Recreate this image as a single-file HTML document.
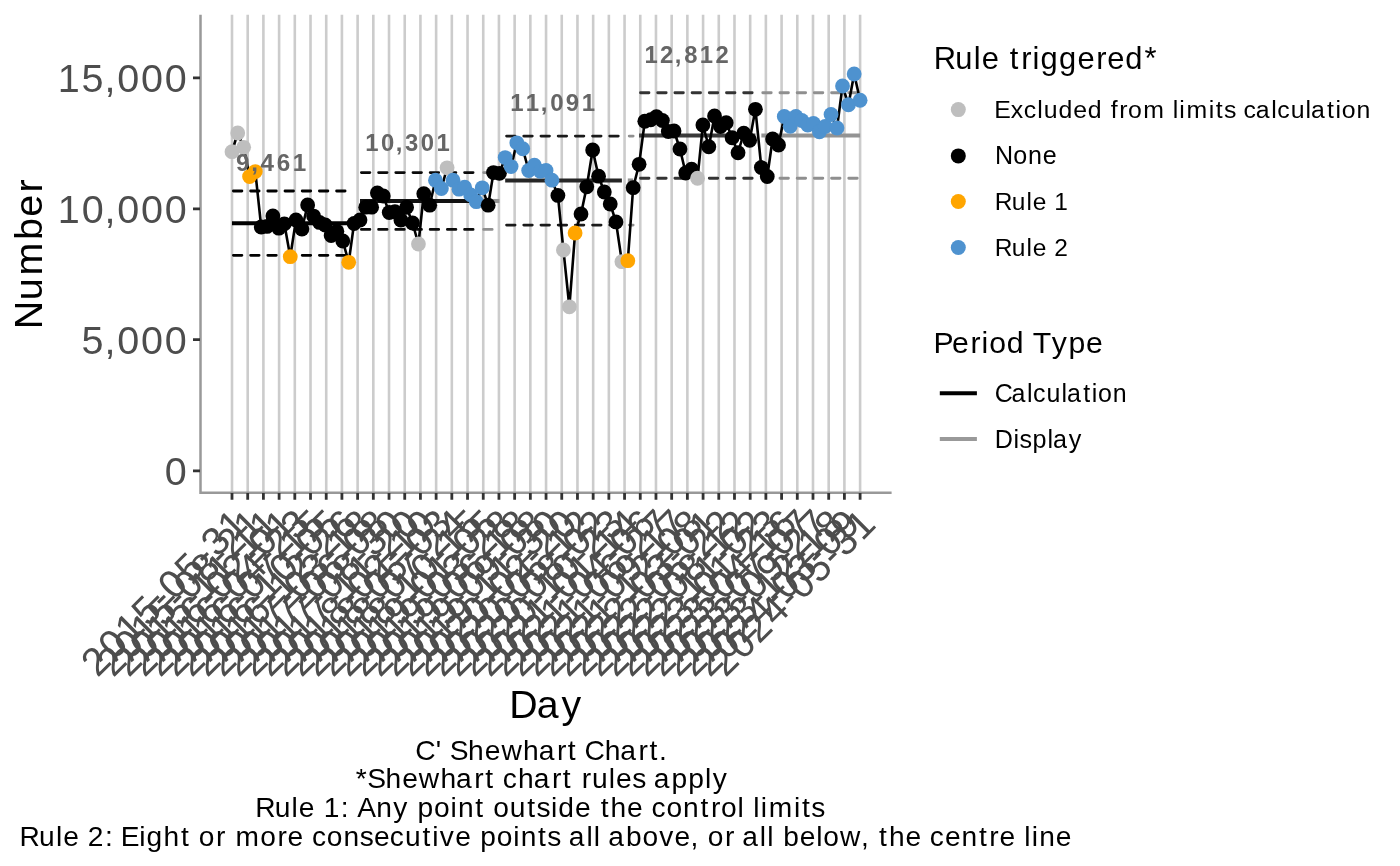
<!DOCTYPE html>
<html><head><meta charset="utf-8"><style>html,body{margin:0;padding:0;background:#fff;overflow:hidden}svg{display:block;will-change:transform}</style></head><body><svg width="1400" height="866" viewBox="0 0 1400 866" font-family="Liberation Sans, sans-serif" style="font-kerning:none"><rect width="1400" height="866" fill="#fff"/>
<path d="M232.00 14.7V492.5M247.70 14.7V492.5M263.40 14.7V492.5M279.11 14.7V492.5M294.81 14.7V492.5M310.51 14.7V492.5M326.22 14.7V492.5M341.92 14.7V492.5M357.62 14.7V492.5M373.32 14.7V492.5M389.02 14.7V492.5M404.73 14.7V492.5M420.43 14.7V492.5M436.13 14.7V492.5M451.83 14.7V492.5M467.54 14.7V492.5M483.24 14.7V492.5M498.94 14.7V492.5M514.64 14.7V492.5M530.35 14.7V492.5M546.05 14.7V492.5M561.75 14.7V492.5M577.46 14.7V492.5M593.16 14.7V492.5M608.86 14.7V492.5M624.56 14.7V492.5M640.26 14.7V492.5M655.97 14.7V492.5M671.67 14.7V492.5M687.37 14.7V492.5M703.08 14.7V492.5M718.78 14.7V492.5M734.48 14.7V492.5M750.18 14.7V492.5M765.88 14.7V492.5M781.59 14.7V492.5M797.29 14.7V492.5M812.99 14.7V492.5M828.69 14.7V492.5M844.40 14.7V492.5M860.10 14.7V492.5" stroke="#cccccc" stroke-width="2.6" fill="none"/>
<path d="M200.5 14.7V492.8H891.6" stroke="#999999" stroke-width="2.5" fill="none"/>
<path d="M193 77.90H200M193 208.85H200M193 339.60H200M193 470.80H200" stroke="#333333" stroke-width="2.8" fill="none"/>
<path d="M232.00 493V499.8M247.70 493V499.8M263.40 493V499.8M279.11 493V499.8M294.81 493V499.8M310.51 493V499.8M326.22 493V499.8M341.92 493V499.8M357.62 493V499.8M373.32 493V499.8M389.02 493V499.8M404.73 493V499.8M420.43 493V499.8M436.13 493V499.8M451.83 493V499.8M467.54 493V499.8M483.24 493V499.8M498.94 493V499.8M514.64 493V499.8M530.35 493V499.8M546.05 493V499.8M561.75 493V499.8M577.46 493V499.8M593.16 493V499.8M608.86 493V499.8M624.56 493V499.8M640.26 493V499.8M655.97 493V499.8M671.67 493V499.8M687.37 493V499.8M703.08 493V499.8M718.78 493V499.8M734.48 493V499.8M750.18 493V499.8M765.88 493V499.8M781.59 493V499.8M797.29 493V499.8M812.99 493V499.8M828.69 493V499.8M844.40 493V499.8M860.10 493V499.8" stroke="#333333" stroke-width="2.8" fill="none"/>
<path d="M232.00 223.2H348.72" stroke="#000000" stroke-width="4.1" fill="none"/>
<path d="M233.40 191.0H348.72M233.40 255.3H348.72" stroke="#000000" stroke-width="2.8" stroke-linecap="round" stroke-dasharray="8.5 8.7" fill="none"/>
<path d="M359.99 201.0H476.32" stroke="#111111" stroke-width="4.1" fill="none"/>
<path d="M361.39 172.6H476.32M361.39 229.4H476.32" stroke="#0a0a0a" stroke-width="2.8" stroke-linecap="round" stroke-dasharray="8.5 8.7" fill="none"/>
<path d="M482.25 201.0H499.44" stroke="#939393" stroke-width="4.1" fill="none"/>
<path d="M483.65 172.6H499.44M483.65 229.4H499.44" stroke="#8f8f8f" stroke-width="2.8" stroke-linecap="round" stroke-dasharray="8.5 8.7" fill="none"/>
<path d="M505.17 180.5H621.89" stroke="#262626" stroke-width="4.1" fill="none"/>
<path d="M506.57 136.1H621.89M506.57 225.1H621.89" stroke="#1a1a1a" stroke-width="2.8" stroke-linecap="round" stroke-dasharray="8.5 8.7" fill="none"/>
<path d="M627.81 180.5H633.16" stroke="#939393" stroke-width="4.1" fill="none"/>
<path d="M629.21 136.1H633.16M629.21 225.1H633.16" stroke="#8f8f8f" stroke-width="2.8" stroke-linecap="round" stroke-dasharray="8.5 8.7" fill="none"/>
<path d="M639.08 135.5H755.42" stroke="#3a3a3a" stroke-width="4.1" fill="none"/>
<path d="M640.48 92.75H755.42M640.48 178.25H755.42" stroke="#333333" stroke-width="2.8" stroke-linecap="round" stroke-dasharray="8.5 8.7" fill="none"/>
<path d="M761.34 135.5H860.10" stroke="#939393" stroke-width="4.1" fill="none"/>
<path d="M762.74 92.75H860.10M762.74 178.25H860.10" stroke="#8f8f8f" stroke-width="2.8" stroke-linecap="round" stroke-dasharray="8.5 8.7" fill="none"/>
<path d="M232.00 151.7 L237.73 133 L243.65 147.3 L249.57 176.6 L255.31 171.6 L261.23 227 L266.96 226.4 L272.88 216 L278.80 228.2 L284.34 223.8 L290.26 256.7 L295.99 219.9 L301.92 229 L307.65 205 L313.57 216.1 L319.49 222.4 L325.22 225.0 L331.14 235.5 L336.87 231.3 L342.80 241 L348.72 262.3 L354.07 223.5 L359.99 220 L365.72 207.2 L371.64 207.2 L377.37 193 L383.29 196 L389.22 212.5 L394.95 211.75 L400.87 220 L406.60 207.25 L412.52 223 L418.44 244 L423.79 193.75 L429.71 205.2 L435.44 180.2 L441.37 188.5 L447.10 167.8 L453.02 180.2 L458.94 189.2 L464.67 187.2 L470.59 194.8 L476.32 201.7 L482.25 187.8 L488.17 205.2 L493.52 172.6 L499.44 173.3 L505.17 157.6 L511.09 166.6 L516.82 142.8 L522.74 148.75 L528.67 170.5 L534.40 165.25 L540.32 171.25 L546.05 170.5 L551.97 180.2 L557.89 195.4 L563.43 250 L569.36 306.8 L575.09 233 L581.01 214 L586.74 186.8 L592.66 150 L598.58 176.2 L604.31 192 L610.24 204 L615.97 221.9 L621.89 261.7 L627.81 260.7 L633.16 187.7 L639.08 164.3 L644.81 121.25 L650.73 119.75 L656.46 116.75 L662.39 120.5 L668.31 131.5 L674.04 131 L679.96 149 L685.69 173 L691.61 169.25 L697.54 178.25 L702.88 125 L708.81 146.75 L714.54 116 L720.46 126.5 L726.19 122.75 L732.11 137.75 L738.03 152.75 L743.76 133.25 L749.69 140.25 L755.42 109.3 L761.34 167.5 L767.26 176.5 L772.61 139 L778.53 145 L784.26 116.5 L790.18 126.25 L795.91 116.5 L801.84 120.5 L807.76 125 L813.49 123.5 L819.41 131.75 L825.14 126.5 L831.06 114.5 L836.99 128 L842.53 86 L848.45 104.75 L854.18 74 L860.10 100.25" stroke="#000" stroke-width="2.6" fill="none" stroke-linejoin="round"/>
<circle cx="232.00" cy="151.7" r="7.4" fill="#bebebe"/>
<circle cx="237.73" cy="133" r="7.4" fill="#bebebe"/>
<circle cx="243.65" cy="147.3" r="7.4" fill="#bebebe"/>
<circle cx="249.57" cy="176.6" r="7.4" fill="#ffa500"/>
<circle cx="255.31" cy="171.6" r="7.4" fill="#ffa500"/>
<circle cx="261.23" cy="227" r="7.4" fill="#000000"/>
<circle cx="266.96" cy="226.4" r="7.4" fill="#000000"/>
<circle cx="272.88" cy="216" r="7.4" fill="#000000"/>
<circle cx="278.80" cy="228.2" r="7.4" fill="#000000"/>
<circle cx="284.34" cy="223.8" r="7.4" fill="#000000"/>
<circle cx="290.26" cy="256.7" r="7.4" fill="#ffa500"/>
<circle cx="295.99" cy="219.9" r="7.4" fill="#000000"/>
<circle cx="301.92" cy="229" r="7.4" fill="#000000"/>
<circle cx="307.65" cy="205" r="7.4" fill="#000000"/>
<circle cx="313.57" cy="216.1" r="7.4" fill="#000000"/>
<circle cx="319.49" cy="222.4" r="7.4" fill="#000000"/>
<circle cx="325.22" cy="225.0" r="7.4" fill="#000000"/>
<circle cx="331.14" cy="235.5" r="7.4" fill="#000000"/>
<circle cx="336.87" cy="231.3" r="7.4" fill="#000000"/>
<circle cx="342.80" cy="241" r="7.4" fill="#000000"/>
<circle cx="348.72" cy="262.3" r="7.4" fill="#ffa500"/>
<circle cx="354.07" cy="223.5" r="7.4" fill="#000000"/>
<circle cx="359.99" cy="220" r="7.4" fill="#000000"/>
<circle cx="365.72" cy="207.2" r="7.4" fill="#000000"/>
<circle cx="371.64" cy="207.2" r="7.4" fill="#000000"/>
<circle cx="377.37" cy="193" r="7.4" fill="#000000"/>
<circle cx="383.29" cy="196" r="7.4" fill="#000000"/>
<circle cx="389.22" cy="212.5" r="7.4" fill="#000000"/>
<circle cx="394.95" cy="211.75" r="7.4" fill="#000000"/>
<circle cx="400.87" cy="220" r="7.4" fill="#000000"/>
<circle cx="406.60" cy="207.25" r="7.4" fill="#000000"/>
<circle cx="412.52" cy="223" r="7.4" fill="#000000"/>
<circle cx="418.44" cy="244" r="7.4" fill="#bebebe"/>
<circle cx="423.79" cy="193.75" r="7.4" fill="#000000"/>
<circle cx="429.71" cy="205.2" r="7.4" fill="#000000"/>
<circle cx="435.44" cy="180.2" r="7.4" fill="#4e92cf"/>
<circle cx="441.37" cy="188.5" r="7.4" fill="#4e92cf"/>
<circle cx="447.10" cy="167.8" r="7.4" fill="#bebebe"/>
<circle cx="453.02" cy="180.2" r="7.4" fill="#4e92cf"/>
<circle cx="458.94" cy="189.2" r="7.4" fill="#4e92cf"/>
<circle cx="464.67" cy="187.2" r="7.4" fill="#4e92cf"/>
<circle cx="470.59" cy="194.8" r="7.4" fill="#4e92cf"/>
<circle cx="476.32" cy="201.7" r="7.4" fill="#4e92cf"/>
<circle cx="482.25" cy="187.8" r="7.4" fill="#4e92cf"/>
<circle cx="488.17" cy="205.2" r="7.4" fill="#000000"/>
<circle cx="493.52" cy="172.6" r="7.4" fill="#000000"/>
<circle cx="499.44" cy="173.3" r="7.4" fill="#000000"/>
<circle cx="505.17" cy="157.6" r="7.4" fill="#4e92cf"/>
<circle cx="511.09" cy="166.6" r="7.4" fill="#4e92cf"/>
<circle cx="516.82" cy="142.8" r="7.4" fill="#4e92cf"/>
<circle cx="522.74" cy="148.75" r="7.4" fill="#4e92cf"/>
<circle cx="528.67" cy="170.5" r="7.4" fill="#4e92cf"/>
<circle cx="534.40" cy="165.25" r="7.4" fill="#4e92cf"/>
<circle cx="540.32" cy="171.25" r="7.4" fill="#4e92cf"/>
<circle cx="546.05" cy="170.5" r="7.4" fill="#4e92cf"/>
<circle cx="551.97" cy="180.2" r="7.4" fill="#4e92cf"/>
<circle cx="557.89" cy="195.4" r="7.4" fill="#000000"/>
<circle cx="563.43" cy="250" r="7.4" fill="#bebebe"/>
<circle cx="569.36" cy="306.8" r="7.4" fill="#bebebe"/>
<circle cx="575.09" cy="233" r="7.4" fill="#ffa500"/>
<circle cx="581.01" cy="214" r="7.4" fill="#000000"/>
<circle cx="586.74" cy="186.8" r="7.4" fill="#000000"/>
<circle cx="592.66" cy="150" r="7.4" fill="#000000"/>
<circle cx="598.58" cy="176.2" r="7.4" fill="#000000"/>
<circle cx="604.31" cy="192" r="7.4" fill="#000000"/>
<circle cx="610.24" cy="204" r="7.4" fill="#000000"/>
<circle cx="615.97" cy="221.9" r="7.4" fill="#000000"/>
<circle cx="621.89" cy="261.7" r="7.4" fill="#bebebe"/>
<circle cx="627.81" cy="260.7" r="7.4" fill="#ffa500"/>
<circle cx="633.16" cy="187.7" r="7.4" fill="#000000"/>
<circle cx="639.08" cy="164.3" r="7.4" fill="#000000"/>
<circle cx="644.81" cy="121.25" r="7.4" fill="#000000"/>
<circle cx="650.73" cy="119.75" r="7.4" fill="#000000"/>
<circle cx="656.46" cy="116.75" r="7.4" fill="#000000"/>
<circle cx="662.39" cy="120.5" r="7.4" fill="#000000"/>
<circle cx="668.31" cy="131.5" r="7.4" fill="#000000"/>
<circle cx="674.04" cy="131" r="7.4" fill="#000000"/>
<circle cx="679.96" cy="149" r="7.4" fill="#000000"/>
<circle cx="685.69" cy="173" r="7.4" fill="#000000"/>
<circle cx="691.61" cy="169.25" r="7.4" fill="#000000"/>
<circle cx="697.54" cy="178.25" r="7.4" fill="#bebebe"/>
<circle cx="702.88" cy="125" r="7.4" fill="#000000"/>
<circle cx="708.81" cy="146.75" r="7.4" fill="#000000"/>
<circle cx="714.54" cy="116" r="7.4" fill="#000000"/>
<circle cx="720.46" cy="126.5" r="7.4" fill="#000000"/>
<circle cx="726.19" cy="122.75" r="7.4" fill="#000000"/>
<circle cx="732.11" cy="137.75" r="7.4" fill="#000000"/>
<circle cx="738.03" cy="152.75" r="7.4" fill="#000000"/>
<circle cx="743.76" cy="133.25" r="7.4" fill="#000000"/>
<circle cx="749.69" cy="140.25" r="7.4" fill="#000000"/>
<circle cx="755.42" cy="109.3" r="7.4" fill="#000000"/>
<circle cx="761.34" cy="167.5" r="7.4" fill="#000000"/>
<circle cx="767.26" cy="176.5" r="7.4" fill="#000000"/>
<circle cx="772.61" cy="139" r="7.4" fill="#000000"/>
<circle cx="778.53" cy="145" r="7.4" fill="#000000"/>
<circle cx="784.26" cy="116.5" r="7.4" fill="#4e92cf"/>
<circle cx="790.18" cy="126.25" r="7.4" fill="#4e92cf"/>
<circle cx="795.91" cy="116.5" r="7.4" fill="#4e92cf"/>
<circle cx="801.84" cy="120.5" r="7.4" fill="#4e92cf"/>
<circle cx="807.76" cy="125" r="7.4" fill="#4e92cf"/>
<circle cx="813.49" cy="123.5" r="7.4" fill="#4e92cf"/>
<circle cx="819.41" cy="131.75" r="7.4" fill="#4e92cf"/>
<circle cx="825.14" cy="126.5" r="7.4" fill="#4e92cf"/>
<circle cx="831.06" cy="114.5" r="7.4" fill="#4e92cf"/>
<circle cx="836.99" cy="128" r="7.4" fill="#4e92cf"/>
<circle cx="842.53" cy="86" r="7.4" fill="#4e92cf"/>
<circle cx="848.45" cy="104.75" r="7.4" fill="#4e92cf"/>
<circle cx="854.18" cy="74" r="7.4" fill="#4e92cf"/>
<circle cx="860.10" cy="100.25" r="7.4" fill="#4e92cf"/>
<circle cx="958.3" cy="109.6" r="7.5" fill="#bebebe"/>
<circle cx="958.3" cy="155.9" r="7.5" fill="#000000"/>
<circle cx="958.3" cy="201.5" r="7.5" fill="#ffa500"/>
<circle cx="958.3" cy="247.5" r="7.5" fill="#4e92cf"/>
<path d="M939.8 393.2H976.9" stroke="#000" stroke-width="4.1"/>
<path d="M939.8 439H976.9" stroke="#999999" stroke-width="4.1"/>
<text x="57.73 81.52 104.58 117.25 140.98 164.71" y="91.80" font-size="39.52" font-weight="normal" fill="#4d4d4d">15,000</text>
<text x="57.73 81.66 104.58 117.25 140.98 164.71" y="222.70" font-size="39.52" font-weight="normal" fill="#4d4d4d">10,000</text>
<text x="81.52 104.58 117.25 140.98 164.71" y="353.50" font-size="39.52" font-weight="normal" fill="#4d4d4d">5,000</text>
<text x="164.71" y="484.70" font-size="39.52" font-weight="normal" fill="#4d4d4d">0</text>
<text x="509.30 536.75 561.59" y="717.90" font-size="39.31" font-weight="normal" fill="#000">Day</text>
<text x="415.16 435.76 442.11 449.76 468.09 484.75 501.42 523.12 538.69 556.98 567.87 577.08 584.50 604.74 620.31 638.61 649.50 659.01" y="759.70" font-size="28.21" font-weight="normal" fill="#000">C' Shewhart Chart.</text>
<text x="355.87 367.20 385.51 402.16 418.81 440.50 456.05 474.33 485.22 494.42 502.83 518.11 533.67 551.95 562.84 572.04 581.78 591.97 608.86 616.09 632.13 645.92 653.68 671.45 688.34 705.02 712.67" y="788.00" font-size="28.19" font-weight="normal" fill="#000">*Shewhart chart rules apply</text>
<text x="255.17 274.70 291.57 298.79 314.75 323.67 340.68 349.07 357.21 376.35 393.37 408.28 417.50 433.91 450.45 457.90 475.33 484.52 493.28 509.77 527.31 536.58 550.94 558.19 575.02 590.97 600.65 610.45 627.09 643.05 651.45 666.42 683.02 700.45 710.93 720.88 737.40 744.22 753.24 760.64 768.73 793.92 801.95 811.22" y="816.80" font-size="28.17" font-weight="normal" fill="#000">Rule 1: Any point outside the control limits</text>
<text x="19.58 39.08 55.94 63.16 79.10 87.81 105.01 113.38 120.74 139.18 146.43 163.45 180.90 190.09 198.84 216.06 225.70 235.43 260.32 277.54 287.58 303.52 311.91 326.87 343.46 359.72 373.88 389.77 404.96 422.48 432.25 439.87 455.16 471.10 480.31 496.71 513.23 520.68 538.09 547.35 561.11 568.86 586.39 593.77 600.59 608.34 626.07 642.47 659.24 674.53 690.51 698.91 707.66 724.88 734.52 742.27 759.80 767.18 774.00 783.21 799.69 816.20 823.32 839.95 861.02 869.43 879.10 888.89 905.51 921.45 929.84 944.90 961.49 978.90 989.36 999.40 1015.34 1024.35 1031.74 1039.19 1055.77" y="845.70" font-size="28.14" font-weight="normal" fill="#000">Rule 2: Eight or more consecutive points all above, or all below, the centre line</text>
<text x="933.87 955.27 973.78 981.69 999.19 1009.80 1021.28 1032.49 1040.45 1058.95 1077.39 1096.29 1107.30 1125.29 1144.57" y="69.10" font-size="30.88" font-weight="normal" fill="#000">Rule triggered*</text>
<text x="994.24 1010.68 1023.84 1037.27 1043.75 1058.53 1073.37 1087.83 1102.32 1110.74 1119.15 1127.93 1143.13 1164.83 1172.78 1179.30 1186.44 1208.65 1215.74 1223.91 1236.06 1243.46 1255.78 1271.26 1277.23 1290.63 1305.51 1310.91 1326.97 1335.59 1341.86 1356.51" y="118.00" font-size="24.84" font-weight="normal" fill="#000">Excluded from limits calculation</text>
<text x="994.97 1013.16 1027.96 1042.74" y="164.30" font-size="25.09" font-weight="normal" fill="#000">None</text>
<text x="994.79 1011.73 1026.39 1032.66 1046.51 1054.26" y="209.90" font-size="24.46" font-weight="normal" fill="#000">Rule 1</text>
<text x="994.78 1011.77 1026.46 1032.75 1046.64 1054.23" y="255.90" font-size="24.52" font-weight="normal" fill="#000">Rule 2</text>
<text x="933.50 952.10 970.57 981.52 989.15 1006.72 1024.32 1032.86 1051.64 1068.44 1086.12" y="353.40" font-size="30.18" font-weight="normal" fill="#000">Period Type</text>
<text x="994.75 1011.52 1027.09 1033.09 1046.57 1061.54 1066.98 1083.13 1091.80 1098.11 1112.84" y="401.80" font-size="24.98" font-weight="normal" fill="#000">Calculation</text>
<text x="994.76 1013.45 1019.59 1032.57 1047.45 1052.91 1068.80" y="448.20" font-size="25.13" font-weight="normal" fill="#000">Display</text>
<text x="236.02 251.24 260.61 276.75 292.65" y="170.80" font-size="24.24" font-weight="bold" fill="#666666">9,461</text>
<text x="365.34 380.93 395.76 405.12 420.77 436.47" y="150.90" font-size="23.83" font-weight="bold" fill="#666666">10,301</text>
<text x="510.13 525.87 540.74 550.15 565.77 581.70" y="110.90" font-size="23.97" font-weight="bold" fill="#666666">11,091</text>
<text x="644.44 659.97 674.83 684.13 699.86 715.39" y="63.00" font-size="23.80" font-weight="bold" fill="#666666">12,812</text>
<text transform="translate(42.1,325.5) rotate(-90)" x="-3.69 25.29 49.99 85.61 108.77 132.96" y="0" font-size="39.53">Number</text>
<g font-size="39.43" fill="#4d4d4d"><text transform="translate(98.90,676.70) rotate(-45)" x="-2.05 22.11 45.59 69.32 92.43 106.57 130.10 153.20 167.40 190.82" y="0">2015-05-31</text><text transform="translate(114.60,676.70) rotate(-45)" x="-2.05 22.11 45.59 69.32 92.43 106.57 130.24 153.20 166.86 190.82" y="0">2015-08-21</text><text transform="translate(130.30,676.70) rotate(-45)" x="-2.05 22.11 45.59 69.32 92.43 106.37 130.04 153.20 167.14 190.82" y="0">2015-11-11</text><text transform="translate(146.01,676.70) rotate(-45)" x="-2.05 22.11 45.59 69.47 92.43 106.57 129.75 153.20 167.35 190.82" y="0">2016-02-01</text><text transform="translate(161.71,676.70) rotate(-45)" x="-2.05 22.11 45.59 69.47 92.43 106.57 130.24 153.20 166.86 191.07" y="0">2016-04-23</text><text transform="translate(177.41,676.70) rotate(-45)" x="-2.05 22.11 45.59 69.47 92.43 106.57 130.17 153.20 167.14 190.88" y="0">2016-07-15</text><text transform="translate(193.12,676.70) rotate(-45)" x="-2.05 22.11 45.59 69.47 92.43 106.37 130.24 153.20 167.35 190.88" y="0">2016-10-05</text><text transform="translate(208.82,676.70) rotate(-45)" x="-2.05 22.11 45.59 69.47 92.43 106.37 129.75 153.20 166.86 191.02" y="0">2016-12-26</text><text transform="translate(224.52,676.70) rotate(-45)" x="-2.05 22.11 45.59 69.39 92.43 106.57 130.30 153.20 167.14 191.02" y="0">2017-03-18</text><text transform="translate(240.22,676.70) rotate(-45)" x="-2.05 22.11 45.59 69.39 92.43 106.57 130.25 153.20 167.35 191.02" y="0">2017-06-08</text><text transform="translate(255.92,676.70) rotate(-45)" x="-2.05 22.11 45.59 69.39 92.43 106.57 130.24 153.20 167.40 191.02" y="0">2017-08-30</text><text transform="translate(271.63,676.70) rotate(-45)" x="-2.05 22.11 45.59 69.39 92.43 106.37 130.04 153.20 166.86 191.02" y="0">2017-11-20</text><text transform="translate(287.33,676.70) rotate(-45)" x="-2.05 22.11 45.59 69.47 92.43 106.57 129.75 153.20 167.14 191.02" y="0">2018-02-10</text><text transform="translate(303.03,676.70) rotate(-45)" x="-2.05 22.11 45.59 69.47 92.43 106.57 130.10 153.20 167.35 191.07" y="0">2018-05-03</text><text transform="translate(318.74,676.70) rotate(-45)" x="-2.05 22.11 45.59 69.47 92.43 106.57 130.17 153.20 166.86 191.02" y="0">2018-07-24</text><text transform="translate(334.44,676.70) rotate(-45)" x="-2.05 22.11 45.59 69.47 92.43 106.37 130.24 153.20 167.14 190.88" y="0">2018-10-15</text><text transform="translate(350.14,676.70) rotate(-45)" x="-2.05 22.11 45.59 69.35 92.43 106.57 130.04 153.20 167.35 190.88" y="0">2019-01-05</text><text transform="translate(365.84,676.70) rotate(-45)" x="-2.05 22.11 45.59 69.35 92.43 106.57 130.30 153.20 166.86 191.02" y="0">2019-03-28</text><text transform="translate(381.54,676.70) rotate(-45)" x="-2.05 22.11 45.59 69.35 92.43 106.57 130.25 153.20 167.14 191.02" y="0">2019-06-18</text><text transform="translate(397.25,676.70) rotate(-45)" x="-2.05 22.11 45.59 69.35 92.43 106.57 130.13 153.20 167.35 191.02" y="0">2019-09-08</text><text transform="translate(412.95,676.70) rotate(-45)" x="-2.05 22.11 45.59 69.35 92.43 106.37 130.04 153.20 167.40 191.02" y="0">2019-11-30</text><text transform="translate(428.65,676.70) rotate(-45)" x="-2.05 22.11 45.30 69.47 92.43 106.57 129.75 153.20 166.86 191.02" y="0">2020-02-20</text><text transform="translate(444.36,676.70) rotate(-45)" x="-2.05 22.11 45.30 69.47 92.43 106.57 130.10 153.20 167.14 190.53" y="0">2020-05-12</text><text transform="translate(460.06,676.70) rotate(-45)" x="-2.05 22.11 45.30 69.47 92.43 106.57 130.24 153.20 167.35 190.53" y="0">2020-08-02</text><text transform="translate(475.76,676.70) rotate(-45)" x="-2.05 22.11 45.30 69.47 92.43 106.37 130.24 153.20 166.86 191.07" y="0">2020-10-23</text><text transform="translate(491.46,676.70) rotate(-45)" x="-2.05 22.11 45.30 69.26 92.43 106.57 130.04 153.20 167.14 191.02" y="0">2021-01-14</text><text transform="translate(507.16,676.70) rotate(-45)" x="-2.05 22.11 45.30 69.26 92.43 106.57 130.24 153.20 167.35 191.02" y="0">2021-04-06</text><text transform="translate(522.87,676.70) rotate(-45)" x="-2.05 22.11 45.30 69.26 92.43 106.57 130.25 153.20 166.86 190.95" y="0">2021-06-27</text><text transform="translate(538.57,676.70) rotate(-45)" x="-2.05 22.11 45.30 69.26 92.43 106.57 130.13 153.20 167.14 190.95" y="0">2021-09-17</text><text transform="translate(554.27,676.70) rotate(-45)" x="-2.05 22.11 45.30 69.26 92.43 106.37 129.75 153.20 167.35 191.02" y="0">2021-12-08</text><text transform="translate(569.98,676.70) rotate(-45)" x="-2.05 22.11 45.30 68.97 92.43 106.57 130.30 153.20 167.35 190.82" y="0">2022-03-01</text><text transform="translate(585.68,676.70) rotate(-45)" x="-2.05 22.11 45.30 68.97 92.43 106.57 130.10 153.20 166.86 190.53" y="0">2022-05-22</text><text transform="translate(601.38,676.70) rotate(-45)" x="-2.05 22.11 45.30 68.97 92.43 106.57 130.24 153.20 167.14 190.53" y="0">2022-08-12</text><text transform="translate(617.08,676.70) rotate(-45)" x="-2.05 22.11 45.30 68.97 92.43 106.37 130.04 153.20 167.35 190.53" y="0">2022-11-02</text><text transform="translate(632.78,676.70) rotate(-45)" x="-2.05 22.11 45.30 69.52 92.43 106.57 130.04 153.20 166.86 191.07" y="0">2023-01-23</text><text transform="translate(648.49,676.70) rotate(-45)" x="-2.05 22.11 45.30 69.52 92.43 106.57 130.24 153.20 167.14 191.02" y="0">2023-04-16</text><text transform="translate(664.19,676.70) rotate(-45)" x="-2.05 22.11 45.30 69.52 92.43 106.57 130.17 153.20 167.35 190.95" y="0">2023-07-07</text><text transform="translate(679.89,676.70) rotate(-45)" x="-2.05 22.11 45.30 69.52 92.43 106.57 130.13 153.20 166.86 190.95" y="0">2023-09-27</text><text transform="translate(695.59,676.70) rotate(-45)" x="-2.05 22.11 45.30 69.52 92.43 106.37 129.75 153.20 167.14 191.02" y="0">2023-12-18</text><text transform="translate(711.30,676.70) rotate(-45)" x="-2.05 22.11 45.30 69.46 92.43 106.57 130.30 153.20 167.35 190.90" y="0">2024-03-09</text><text transform="translate(727.00,676.70) rotate(-45)" x="-2.05 22.11 45.30 69.46 92.43 106.57 130.10 153.20 167.40 190.82" y="0">2024-05-31</text></g></svg></body></html>
